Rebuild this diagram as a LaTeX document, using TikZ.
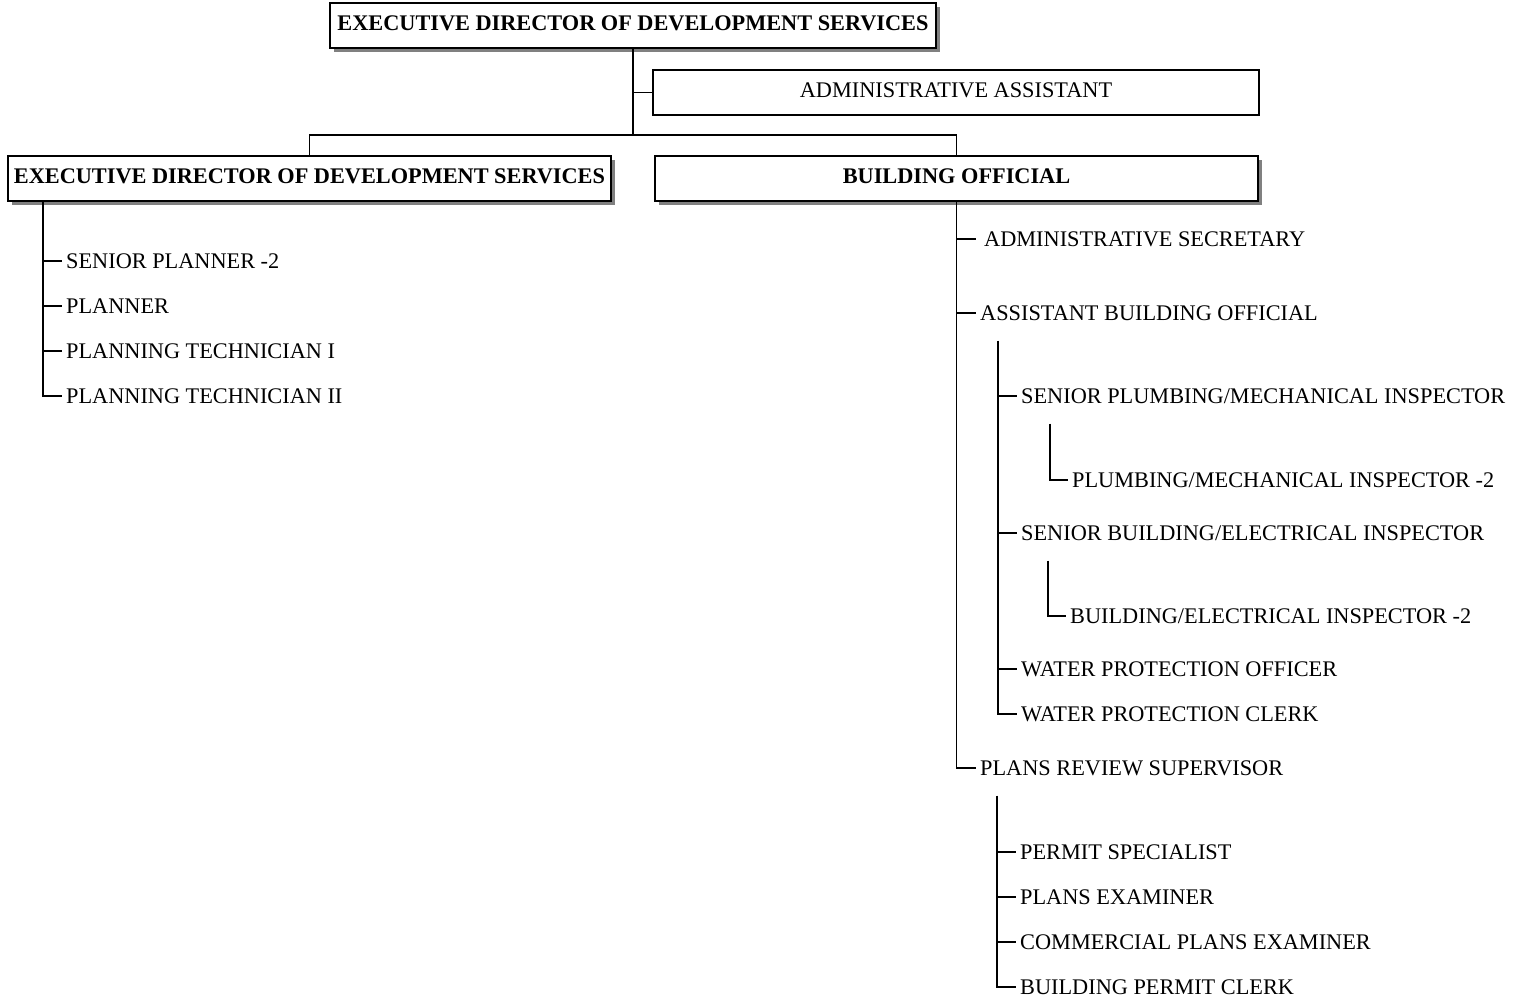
\documentclass[tikz,border=0pt]{standalone}
\usepackage{fontspec}
\setmainfont{Liberation Serif}
\usetikzlibrary{positioning,shadows}
\tikzset{
  posbox/.style={
    draw, line width=1.9pt, fill=white, minimum height=45pt, inner sep=0pt,
    text height=15pt, text depth=6pt, font=\fontsize{22.3pt}{26pt}\selectfont
  },
  headbox/.style={posbox, font=\fontsize{22.3pt}{26pt}\selectfont\bfseries,
    drop shadow={shadow xshift=4pt, shadow yshift=-4pt, fill=black!50, opacity=1}},
  role/.style={anchor=west, inner xsep=4pt, inner ysep=0pt, text height=14.6pt,
    text depth=0pt, font=\fontsize{22.3pt}{26pt}\selectfont},
  orgline/.style={line width=1.9pt}
}
\begin{document}
\begin{tikzpicture}[x=1pt, y=-1pt]
  \useasboundingbox (0,0) rectangle (1522,999);
  % top level
  \node[headbox, minimum width=606pt] (top) at (633,25.5) {EXECUTIVE DIRECTOR OF DEVELOPMENT SERVICES};
  \node[posbox, minimum width=606pt] (aa) at (956,92.5) {ADMINISTRATIVE ASSISTANT};
  \node[headbox, minimum width=603pt] (lead) at (309.5,178.5) {EXECUTIVE DIRECTOR OF DEVELOPMENT SERVICES};
  \node[headbox, minimum width=603pt] (bo) at (956.5,178.5) {BUILDING OFFICIAL};
  \coordinate (split) at (633,135);
  \draw[orgline] (top.south) |- (aa.west);
  \draw[orgline] (top.south) -- (split);
  \draw[orgline] (lead.north) |- (split) -| (bo.north);

  % planning
  \node[role] (sp1) at (62,261) {SENIOR PLANNER -2};
  \node[role] (pl) at (62,306) {PLANNER};
  \node[role] (pt1) at (62,351) {PLANNING TECHNICIAN I};
  \node[role] (pt2) at (62,396) {PLANNING TECHNICIAN II};
  \coordinate (leadtrunk) at ([xshift=36pt]lead.south west);
  \draw[orgline] (leadtrunk) |- (pt2.west);
  \foreach \n in {sp1,pl,pt1}
    \draw[orgline] (leadtrunk |- \n.west) -- (\n.west);

  % building
  \node[role, inner xsep=8pt] (as) at (976,239) {ADMINISTRATIVE SECRETARY};
  \node[role] (abo) at (976,313) {ASSISTANT BUILDING OFFICIAL};
  \node[role] (prs) at (976,768) {PLANS REVIEW SUPERVISOR};
  \draw[orgline] (bo.south) |- (prs.west);
  \foreach \n in {as,abo}
    \draw[orgline] (bo.south |- \n.west) -- (\n.west);

  % inspection
  \node[role] (spm) at (1017,396) {SENIOR PLUMBING/MECHANICAL INSPECTOR};
  \node[role] (pmi) at (1068,480) {PLUMBING/MECHANICAL INSPECTOR -2};
  \node[role] (sbe) at (1017,533) {SENIOR BUILDING/ELECTRICAL INSPECTOR};
  \node[role] (bei) at (1066,616) {BUILDING/ELECTRICAL INSPECTOR -2};
  \node[role] (wpo) at (1017,669) {WATER PROTECTION OFFICER};
  \node[role] (wpc) at (1017,714) {WATER PROTECTION CLERK};
  \coordinate (abotop) at ([shift={(22pt,-20pt)}]abo.south west);
  \draw[orgline] (abotop) |- (wpc.west);
  \foreach \n in {spm,sbe,wpo}
    \draw[orgline] (abotop |- \n.west) -- (\n.west);
  \draw[orgline] ([shift={(33pt,-20pt)}]spm.south west) |- (pmi.west);
  \draw[orgline] ([shift={(31pt,-20pt)}]sbe.south west) |- (bei.west);

  % plans review
  \node[role] (ps) at (1016,852) {PERMIT SPECIALIST};
  \node[role] (pe) at (1016,897) {PLANS EXAMINER};
  \node[role] (cpe) at (1016,942) {COMMERCIAL PLANS EXAMINER};
  \node[role] (bpc) at (1016,987) {BUILDING PERMIT CLERK};
  \coordinate (prstop) at ([shift={(21pt,-20pt)}]prs.south west);
  \draw[orgline] (prstop) |- (bpc.west);
  \foreach \n in {ps,pe,cpe}
    \draw[orgline] (prstop |- \n.west) -- (\n.west);
\end{tikzpicture}
\end{document}
